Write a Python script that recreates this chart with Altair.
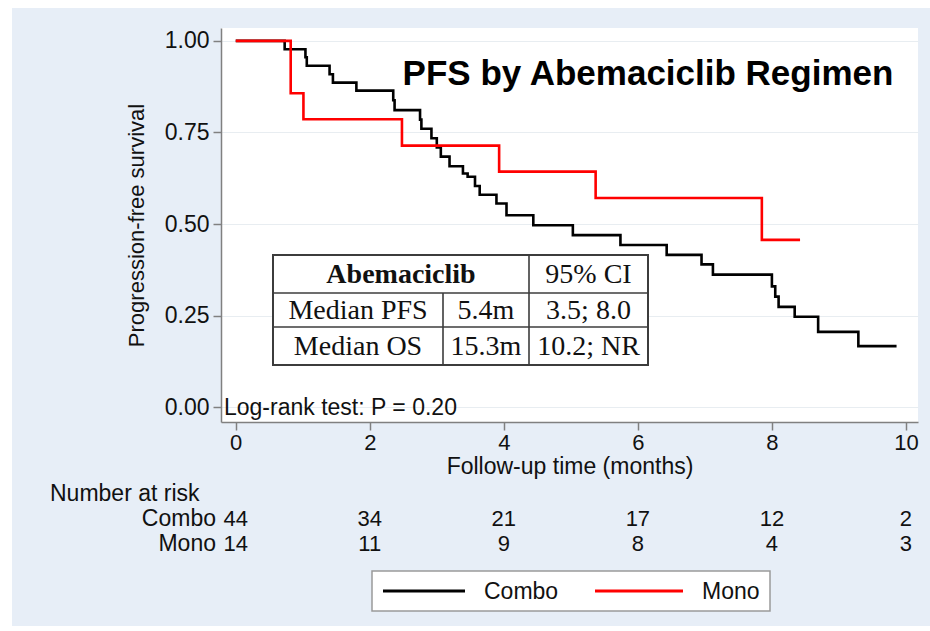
import altair as alt
import pandas as pd

# Kaplan-Meier step points: follow-up time (months) and progression-free survival
combo_time = [0.00, 0.73, 1.04, 1.06, 1.40, 1.45, 1.80, 2.35, 2.37, 2.75, 2.77,
              2.92, 3.00, 3.06, 3.19, 3.39, 3.46, 3.57, 3.64, 3.89, 4.04, 4.44,
              5.03, 5.74, 6.43, 6.95, 7.12, 8.00, 8.05, 8.10, 8.34, 8.69, 9.29, 9.86]
combo_surv = [1.000, 0.977, 0.955, 0.932, 0.909, 0.886, 0.864, 0.838, 0.811, 0.785, 0.760,
              0.734, 0.709, 0.684, 0.658, 0.638, 0.629, 0.604, 0.580, 0.556, 0.524, 0.497,
              0.470, 0.443, 0.416, 0.390, 0.362, 0.330, 0.302, 0.274, 0.247, 0.206, 0.167, 0.167]

mono_time = [0.00, 0.82, 1.01, 2.48, 3.93, 5.37, 7.85, 8.42]
mono_surv = [1.000, 0.857, 0.786, 0.714, 0.643, 0.571, 0.457, 0.457]

groups = ["Combo", "Mono"]
group_colors = ["#000000", "#ff0000"]

# Number at risk below the axis
risk_months = [0, 2, 4, 6, 8, 10]
risk_combo = [44, 34, 21, 17, 12, 2]
risk_mono = [14, 11, 9, 8, 4, 3]

# Inset summary table
table_header = ["Abemaciclib", "95% CI"]
table_rows = [["Median PFS", "5.4m", "3.5; 8.0"],
              ["Median OS", "15.3m", "10.2; NR"]]

title_text = "PFS by Abemaciclib Regimen"
logrank_text = "Log-rank test: P = 0.20"

# ---- layout (pixels) ----
LEFT, TOP, W, H = 221, 28, 697, 394
TOTAL_W, TOTAL_H = 930, 631
SANS = "Liberation Sans"
SERIF = "Liberation Serif"
BG = "#e7eef7"
AXIS_GRAY = "#808080"
INK = "#111111"
FS = 23

km = pd.concat([
    pd.DataFrame({"time": combo_time, "surv": combo_surv, "group": groups[0]}),
    pd.DataFrame({"time": mono_time, "surv": mono_surv, "group": groups[1]}),
])

x_scale = alt.Scale(domain=[-0.22, 10.18], nice=False, zero=False)
y_scale = alt.Scale(domain=[-0.04, 1.035], nice=False, zero=False)

curves = alt.Chart(km).mark_line(interpolate="step-after", strokeWidth=2.6).encode(
    x=alt.X("time:Q", scale=x_scale, axis=alt.Axis(
        values=risk_months, format="d", grid=False, title="Follow-up time (months)",
        labelFontSize=22, titleFontSize=FS, titleFontWeight="normal", labelPadding=2,
        titlePadding=2, tickSize=8)),
    y=alt.Y("surv:Q", scale=y_scale, axis=alt.Axis(
        values=[0, 0.25, 0.5, 0.75, 1.0], format=".2f", grid=True,
        title="Progression-free survival", labelFontSize=FS, titleFontSize=22,
        titleFontWeight="normal", labelPadding=4, titlePadding=16, tickSize=8)),
    color=alt.Color("group:N", scale=alt.Scale(domain=groups, range=group_colors),
                    legend=None),
)


def label(text, px, py, **kw):
    """Text placed at an absolute pixel position of the page."""
    return alt.Chart(pd.DataFrame({"label": [text]})).mark_text(**kw).encode(
        x=alt.value(px - LEFT), y=alt.value(py - TOP), text="label:N")


def box(x0, y0, x1, y1, **kw):
    return alt.Chart(pd.DataFrame({"k": [0]})).mark_rect(**kw).encode(
        x=alt.value(x0 - LEFT), x2=alt.value(x1 - LEFT),
        y=alt.value(y0 - TOP), y2=alt.value(y1 - TOP))


def rule(x0, y0, x1, y1, **kw):
    return alt.Chart(pd.DataFrame({"k": [0]})).mark_rule(**kw).encode(
        x=alt.value(x0 - LEFT), x2=alt.value(x1 - LEFT),
        y=alt.value(y0 - TOP), y2=alt.value(y1 - TOP))


layers = [curves]

# white margins around the shaded graph region
layers.append(box(0, 0, TOTAL_W, 8, fill="white"))
layers.append(box(0, 0, 12, TOTAL_H, fill="white"))
layers.append(box(0, 626, TOTAL_W, TOTAL_H, fill="white"))

# title and log-rank annotation
layers.append(label(title_text, 648, 74, fontSize=35, fontWeight="bold", font=SANS,
                    align="center", baseline="middle", color="#000000"))
layers.append(label(logrank_text, 224, 408, fontSize=FS, font=SANS, align="left",
                    baseline="middle", color=INK))

# inset table
tx0, tx1, tx2, tx3 = 273, 443, 529, 648
ty0, ty1, ty2, ty3 = 255, 293, 327, 365
layers.append(box(tx0, ty0, tx3, ty3, fill="white", stroke="#3c3c3c", strokeWidth=2))
for yy in (ty1, ty2):
    layers.append(rule(tx0, yy, tx3, yy, color="#3c3c3c", strokeWidth=1.6))
layers.append(rule(tx2, ty0, tx2, ty3, color="#3c3c3c", strokeWidth=1.6))
layers.append(rule(tx1, ty1, tx1, ty3, color="#3c3c3c", strokeWidth=1.6))
layers.append(label(table_header[0], (tx0 + tx2) / 2, (ty0 + ty1) / 2 + 1, fontSize=28,
                    fontWeight="bold", font=SERIF, align="center", baseline="middle",
                    color=INK))
layers.append(label(table_header[1], (tx2 + tx3) / 2, (ty0 + ty1) / 2 + 1, fontSize=28,
                    font=SERIF, align="center", baseline="middle", color=INK))
col_centres = [(tx0 + tx1) / 2, (tx1 + tx2) / 2, (tx2 + tx3) / 2]
for row, (ya, yb) in zip(table_rows, [(ty1, ty2), (ty2, ty3)]):
    for cell, cx in zip(row, col_centres):
        layers.append(label(cell, cx, (ya + yb) / 2 + 1, fontSize=28, font=SERIF,
                            align="center", baseline="middle", color=INK))

# number at risk
layers.append(label("Number at risk", 50, 494, fontSize=FS, font=SANS, align="left",
                    baseline="middle", color=INK))
for name, counts, py in [(groups[0], risk_combo, 519), (groups[1], risk_mono, 544)]:
    layers.append(label(name, 216, py, fontSize=FS, font=SANS, align="right",
                        baseline="middle", color=INK))
    risk = pd.DataFrame({"month": risk_months, "n": counts})
    layers.append(alt.Chart(risk).mark_text(fontSize=22, font=SANS, baseline="middle",
                                            color=INK).encode(
        x=alt.X("month:Q", scale=x_scale), y=alt.value(py - TOP), text="n:Q"))

# legend box with line keys
layers.append(box(372, 571, 770, 611, fill="white", stroke="#9a9a9a", strokeWidth=1.5))
for name, colour, (lx0, lx1) in zip(groups, group_colors, [(383, 465), (595, 683)]):
    layers.append(rule(lx0, 591, lx1, 591, color=colour, strokeWidth=3))
    layers.append(label(name, lx1 + 19, 592, fontSize=FS, font=SANS, align="left",
                        baseline="middle", color=INK))

chart = alt.layer(*layers).properties(
    width=W, height=H,
    autosize=alt.AutoSizeParams(type="none"),
    padding={"left": LEFT, "top": TOP, "right": TOTAL_W - LEFT - W,
             "bottom": TOTAL_H - TOP - H},
    background=BG,
).configure_view(fill="white", strokeWidth=0).configure_axis(
    domainColor=AXIS_GRAY, domainWidth=1.5, tickColor=AXIS_GRAY, tickWidth=1.5,
    gridColor="#e8edf1", gridWidth=1.2, labelColor=INK, titleColor=INK,
    labelFont=SANS, titleFont=SANS,
)

chart.save("out.html", embed_options={"renderer": "svg", "actions": False})
